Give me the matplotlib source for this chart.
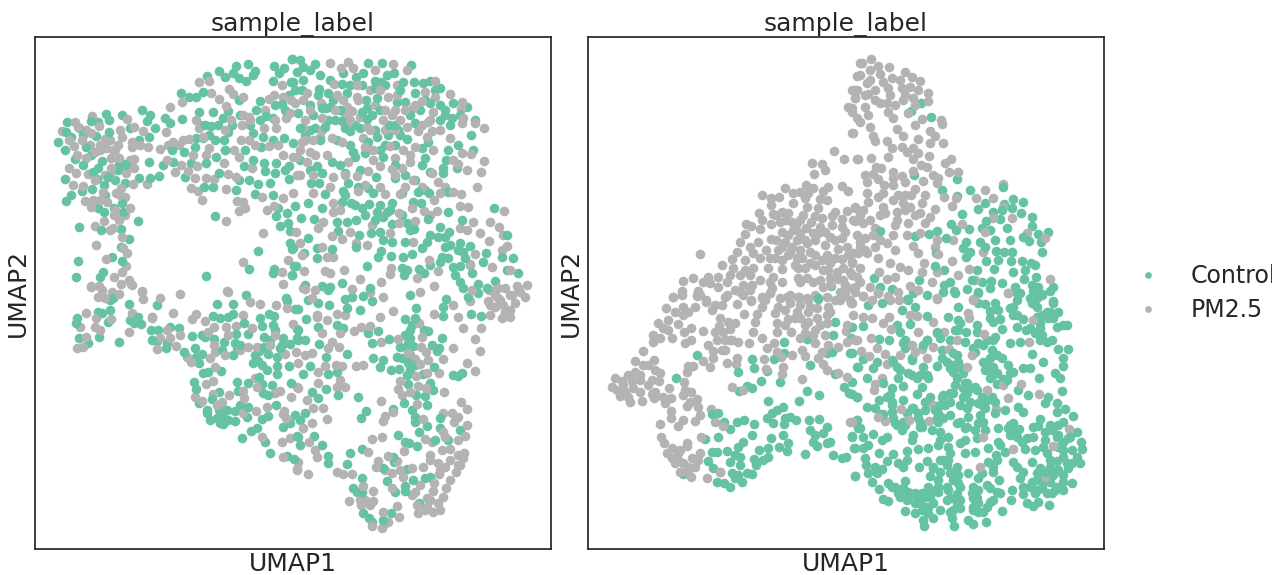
import numpy as np
import matplotlib
matplotlib.use('Agg')
import matplotlib.pyplot as plt
from matplotlib.lines import Line2D

# point positions, y runs downward
left_control = [
(67,122),(58,142),(65,150),(66,132),(71,137),(79,128),(83,135),(86,147),(75,159),(83,165),(91,155),(91,121),(98,122),(106,114),(109,120),(109,132),(96,136),(122,115),(130,128),(142,110),(150,115),(147,121),(155,128),(149,137),(139,140),(165,118),(170,123),(182,119),(181,93),(189,97),(196,97),(203,92),(207,76),(219,71),(225,77),(233,73),(236,66),(248,64),(239,78),(246,81),(253,75),(255,71),(274,66),(284,68),(279,73),(273,81),(292,59),(291,82),(289,95),(282,104),(260,101),(239,100),(228,111),(223,118),(213,112),(199,112),(256,110),(266,116),(273,118),(211,126),(218,125),(228,132),(224,140),(209,135),(203,138),(196,138),(195,147),(184,152),(253,133),(263,137),(273,140),(284,138),(293,143),(245,150),(261,147),(253,160),(244,166),(264,163),(265,171),(276,163),(275,173),(289,179),(289,166),(219,173),(191,163),(206,163),(216,157),(173,162),(163,165),(149,162),(159,176),(150,178),(139,178),(124,164),(119,164),(102,161),(98,168),(93,172),(97,179),(108,177),(115,180),(125,183),(104,185),(92,189),(82,191),(71,195),(66,201),(65,179),(185,177),(204,187),(213,187),(236,190),(239,180),(249,180),(258,184),(270,183),(273,195),(255,194),(278,208),(276,216),(287,213),(288,223),(280,226),(290,231),(290,243),(292,249),(258,251),(249,269),(274,269),(273,273),(292,275),(294,266),(206,276),(215,216),(98,208),(104,212),(114,208),(123,212),(138,221),(122,203),(79,227),(101,230),(121,229),(129,239),(121,247),(78,261),(112,257),(122,261),(76,277),(103,272),(100,277),
(292,59),(300,60),(303,67),(297,72),(303,80),(315,64),(310,70),(293,82),(368,63),(382,63),(411,65),(356,77),(363,73),(343,73),(394,73),(387,75),(342,84),(347,93),(375,81),(381,82),(403,82),(414,82),(423,83),(430,81),(440,88),(319,89),(328,93),(330,107),(322,108),(366,100),(377,98),(367,108),(380,110),(397,102),(405,102),(415,93),(430,103),(440,105),(453,103),(467,107),(445,115),(452,118),(440,120),(475,120),(471,135),(298,113),(313,115),(328,120),(342,121),(315,128),(325,127),(350,131),(367,119),(377,137),(389,125),(398,130),(407,139),(415,123),(428,142),(422,148),(458,145),(473,150),(448,150),(446,160),(425,158),(422,165),(443,168),(457,168),(443,173),(430,172),(353,152),(365,153),(383,157),(355,157),(332,162),(317,166),(322,173),(345,173),(376,177),(395,178),(348,183),(343,191),(358,187),(368,188),(373,193),(311,183),(319,183),(325,194),(295,206),(308,203),(322,208),(342,202),(351,203),(369,204),(362,208),(365,215),(377,212),(387,212),(392,203),(402,193),(418,192),(413,202),(421,203),(429,193),(448,192),(448,212),(428,219),(494,208),(462,220),(301,218),(314,219),(337,222),(347,222),(338,231),(356,220),(383,217),(392,224),(407,223),(414,229),(359,235),(371,233),(380,232),(383,240),(392,242),(405,242),(427,242),(440,227),(449,232),(438,237),(445,237),(507,235),(445,247),(460,243),(470,246),(463,252),(486,253),(502,257),(513,258),(442,257),(448,258),(483,262),(453,267),(460,266),(507,270),(472,273),(518,273),(495,281),(455,275),(460,282),(478,284),(487,288),(293,248),(308,238),(317,248),(332,249),(317,258),(356,247),(381,251),(378,257),(391,256),(403,257),(412,254),(422,248),(367,266),(402,268),(407,270),(404,275),(419,269),(424,273),(304,253),(296,266),(292,275),(342,283),(322,286),(305,285),(330,287),(370,288),
(77,318),(76,323),(79,338),(88,343),(99,337),(102,313),(98,312),(108,322),(110,310),(113,298),(119,342),(129,304),(157,305),(138,317),(134,323),(141,324),(152,317),(151,330),(158,330),(170,327),(179,328),(152,340),(157,341),(166,348),(167,343),(184,352),(195,348),(196,357),(202,354),(199,363),(203,373),(208,372),(221,371),(192,336),(202,335),(205,337),(214,339),(224,342),(217,304),(233,304),(246,295),(213,316),(220,318),(228,317),(233,314),(244,323),(260,318),(262,326),(248,334),(236,334),(235,343),(240,345),(237,348),(233,355),(264,337),(264,347),(259,351),(268,354),(277,357),(280,348),(283,338),(290,344),(297,338),(269,314),(274,316),(273,325),(275,330),(286,298),(287,301),(295,309),(297,329),(253,363),(258,361),(277,366),(267,370),(277,374),(289,366),(259,377),(262,384),(263,393),(248,383),(237,382),(238,391),(291,383),(194,382),(196,389),(219,392),(212,399),(199,403),(248,407),(247,417),(276,405),(207,410),(207,413),(219,410),(227,410),(235,411),(217,418),(220,423),(223,424),(235,421),(262,419),(268,416),(257,428),(251,431),(242,438),(265,442),(270,453),(283,427),(290,423),(295,415),(297,436),(287,456),(294,459),
(328,290),(308,300),(318,303),(298,309),(329,305),(345,299),(352,297),(363,296),(372,301),(347,308),(360,310),(306,319),(318,327),(298,330),(343,328),(337,325),(368,333),(378,331),(372,343),(389,339),(405,319),(415,318),(416,308),(410,295),(443,307),(446,299),(443,316),(463,288),(471,314),(481,316),(478,293),(468,297),(410,330),(410,338),(424,330),(428,331),(442,338),(400,347),(413,346),(408,343),(432,345),(439,348),(437,351),(319,344),(305,340),(298,340),(326,357),(347,354),(310,366),(303,374),(328,374),(337,372),(373,358),(380,367),(383,360),(397,357),(402,358),(391,370),(399,369),(408,363),(410,370),(407,375),(423,374),(434,367),(430,383),(453,375),(458,376),(462,373),(408,384),(433,390),(312,392),(326,389),(318,398),(338,395),(358,397),(404,403),(416,395),(425,396),(427,405),(412,410),(366,411),(361,418),(393,409),(440,418),(440,428),(460,430),(415,417),(415,422),(419,432),(427,426),(300,420),(305,413),(298,437),(300,445),(314,436),(322,445),(328,456),(328,463),(347,464),(350,453),(362,449),(398,435),(405,442),(409,443),(417,446),(435,440),(448,440),(393,457),(394,462),(383,468),(407,469),(362,478),(387,481),(413,480),(425,478),(430,477),(405,486),(405,491),(395,492),(353,488),(357,492),(362,492),(419,503),(363,513),(369,518),(372,522),(391,513),(383,520),(384,524),
(310,105),(318,95),(326,108),(333,100),(340,110),(335,120),(345,128),(355,125),(362,112),(372,115),(375,130),(388,135),(395,125),(385,145),(395,145),(400,135),(410,115),(420,110),(425,100),(435,90),(445,110),(450,125),(460,115),(305,135),(300,128),(310,130),(320,140),(337,140),(350,145),(360,128),(368,142),(380,150),(395,165),(405,175),(415,180),(425,190),(345,195),(355,205),(375,220),(380,205),(390,210),(402,215),(410,230),(430,235),(450,245),(458,250),(465,258),(470,265),(440,262),(430,265),(285,110),(275,105),(295,90),(302,90),(320,75),(330,80),(350,85),(362,85),(375,88),(385,85),(400,90),(300,160),(285,170),(310,170),(340,165),(360,170),(260,120),(250,125),(232,125),(240,115),(205,125),(215,140),(225,150),(200,125),(172,150),(118,170),(126,165),(105,195),(415,365),(410,355),(405,335),(412,325),(408,350),(255,355),(262,365),(272,385),(268,395),(240,405),(228,420),(225,410),(210,420),(223,418),(282,345),(270,340),(222,350),(130,320),(110,300),
]

left_pm25 = [
(92,116),(75,122),(62,131),(78,127),(86,130),(91,133),(99,126),(69,140),(74,146),(77,155),(86,158),(95,152),(105,139),(106,148),(113,150),(118,145),(122,137),(111,158),(111,168),(119,158),(134,159),(134,168),(126,173),(127,119),(134,127),(143,131),(132,142),(132,147),(148,147),(160,149),(168,145),(173,142),(183,140),(189,139),(179,145),(166,132),(170,107),(182,102),(199,82),(209,81),(211,93),(196,120),(199,128),(203,137),(193,155),(209,148),(206,155),(197,166),(181,165),(167,160),(175,172),(188,171),(195,178),(191,188),(198,191),(202,200),(206,178),(226,189),(214,179),(228,174),(236,177),(224,163),(234,150),(239,157),(241,140),(249,140),(242,125),(231,120),(243,115),(249,117),(226,106),(229,89),(233,94),(243,97),(219,99),(269,99),(282,85),(274,95),(283,97),(291,100),(286,118),(290,113),(276,128),(264,128),(269,146),(278,145),(283,155),(293,157),(252,168),(262,197),(283,198),(274,206),(267,210),(237,201),(243,202),(245,208),(239,211),(226,221),(263,233),(243,262),(288,260),(282,272),(283,284),(227,291),(73,185),(83,186),(69,168),(76,173),(88,174),(85,201),(93,200),(91,207),(103,192),(107,202),(116,193),(121,188),(125,197),(133,184),(147,184),(130,208),(114,215),(119,220),(104,221),(113,228),(95,226),(122,237),(96,245),(123,248),(127,253),(106,259),(126,266),(122,272),(114,277),(129,280),(131,284),(121,284),(91,286),(99,286),(142,291),
(330,63),(348,62),(341,68),(353,68),(375,70),(393,64),(407,70),(334,84),(357,85),(370,90),(380,90),(397,85),(388,97),(397,95),(435,81),(425,92),(422,101),(435,97),(450,94),(462,102),(307,93),(303,100),(295,103),(321,103),(337,95),(343,100),(357,97),(347,107),(352,111),(305,120),(322,118),(360,117),(350,120),(367,127),(383,120),(392,115),(405,110),(413,108),(433,112),(461,109),(463,118),(462,123),(475,123),(484,128),(407,127),(418,131),(428,122),(432,131),(422,125),(303,128),(332,138),(320,137),(313,140),(302,142),(300,150),(310,152),(342,142),(363,138),(365,147),(373,150),(390,146),(395,158),(403,150),(410,155),(410,162),(402,168),(392,169),(415,147),(427,137),(450,138),(433,150),(462,153),(471,154),(484,161),(453,160),(458,164),(467,170),(481,172),(477,187),(432,173),(438,182),(445,187),(453,192),(461,194),(440,193),(434,200),(413,180),(405,187),(400,194),(422,187),(297,157),(307,162),(327,155),(348,162),(333,177),(313,175),(297,175),(357,176),(368,171),(380,166),(373,160),(380,187),(385,194),(330,187),(358,191),(313,193),(293,193),(333,203),(340,210),(333,212),(412,208),(424,211),(437,211),(430,215),(399,213),(460,206),(468,207),(504,211),(473,222),(490,222),(499,227),(460,228),(467,230),(480,233),(489,241),(503,235),(507,246),(502,250),(475,254),(470,264),(492,267),(510,270),(429,260),(438,271),(323,222),(318,228),(332,236),(342,239),(350,232),(372,225),(399,223),(415,221),(390,233),(413,242),(367,245),(356,243),(296,232),(300,243),(322,247),(333,257),(327,257),(302,255),(304,271),(325,271),(330,273),(344,270),(360,279),(381,282),(391,268),(390,274),(417,278),(434,286),(498,288),(517,286),(527,285),(303,288),
(86,313),(80,327),(95,327),(100,330),(86,337),(77,348),(83,347),(96,318),(111,319),(132,313),(129,332),(173,313),(180,294),(160,298),(143,299),(142,292),(119,294),(98,297),(105,298),(91,287),(102,290),(112,292),(132,285),(152,318),(167,330),(170,338),(180,335),(176,346),(157,349),(160,338),(192,319),(196,314),(205,321),(214,327),(208,332),(187,357),(191,362),(210,358),(214,345),(215,352),(225,355),(215,367),(226,327),(236,326),(228,335),(228,292),(250,302),(260,304),(276,305),(243,315),(252,328),(257,347),(248,347),(240,350),(270,345),(285,354),(296,352),(298,363),(287,308),(293,324),(275,335),(297,387),(291,397),(275,393),(280,391),(255,378),(257,387),(243,391),(244,398),(206,384),(213,381),(195,397),(202,401),(213,394),(222,402),(229,395),(217,405),(243,413),(256,411),(267,407),(284,411),(283,414),(286,418),(262,437),(282,442),(290,438),(283,457),(297,470),
(393,311),(380,317),(337,314),(317,315),(327,320),(345,315),(354,331),(361,327),(370,326),(340,333),(322,333),(381,342),(398,339),(419,323),(422,337),(421,347),(426,352),(428,360),(408,353),(415,359),(420,364),(443,359),(427,373),(439,373),(416,376),(400,381),(398,389),(402,395),(410,392),(418,386),(426,388),(444,392),(417,404),(453,348),(434,314),(458,317),(463,328),(481,328),(475,339),(480,351),(467,363),(475,371),(453,305),(470,301),(488,301),(498,298),(503,305),(512,295),(515,303),(525,297),(518,288),(505,288),(495,307),(490,315),(502,318),(510,317),(472,290),(489,290),(305,289),(315,290),(312,298),(317,317),(352,289),(370,292),(383,297),(420,292),(332,342),(328,348),(339,347),(312,353),(305,355),(342,366),(336,365),(325,366),(318,372),(356,366),(363,365),(340,380),(318,383),(337,387),(345,387),(298,388),(307,400),(313,408),(323,408),(327,419),(312,423),(303,428),(381,401),(385,416),(383,421),(393,412),(423,419),(461,402),(467,409),(452,413),(458,417),(454,422),(467,425),(443,413),(443,432),(445,437),(465,436),(458,440),(425,439),(432,442),(372,439),(382,437),(309,442),(315,450),(317,457),(298,462),(297,469),(308,474),(337,472),(343,474),(352,474),(368,452),(404,451),(430,455),(442,450),(450,449),(458,455),(464,453),(463,458),(438,463),(445,467),(458,465),(456,472),(439,474),(388,456),(378,461),(376,467),(397,461),(392,473),(412,468),(423,467),(403,477),(434,483),(420,485),(415,492),(412,495),(446,488),(433,491),(443,497),(438,503),(427,498),(427,507),(433,512),(417,505),(418,513),(392,488),(363,486),(373,491),(349,501),(361,505),(373,501),(365,500),(397,506),(399,517),(383,512),(388,522),(372,526),(382,528),
(310,110),(322,130),(335,110),(345,115),(358,100),(375,105),(385,110),(395,110),(305,140),(345,125),(370,130),(385,130),(400,120),(415,105),(430,120),(440,130),(300,175),(315,155),(345,175),(365,185),(395,175),(395,130),(250,120),(265,110),(275,120),(255,145),(225,130),(225,150),(140,145),(130,160),(115,150),(110,175),(120,195),(105,175),(115,210),(110,230),(100,200),(125,215),(82,140),(90,145),(100,145),(110,140),(120,130),(100,150),(95,180),(430,460),(440,470),(450,460),(460,465),(450,480),(430,500),(425,510),(440,510),(495,290),(500,300),(505,312),(510,295),(495,295),(520,292),(490,305),(510,310),(360,500),(370,505),(385,470),(400,470),
]

right_pm25 = [
(860,63),(857,76),(852,90),(857,90),(855,98),(848,107),(852,112),(857,118),(852,133),(834,151),(844,159),(857,159),(812,163),(822,164),(825,170),(814,174),(806,185),(785,188),(813,188),(828,187),(823,191),(842,186),(848,191),(855,207),(762,195),(771,198),(779,197),(793,193),(800,192),(808,193),(805,198),(820,199),(827,200),(771,205),(793,203),(807,207),(818,208),(847,211),(759,213),(773,214),(782,212),(788,213),(803,215),(815,216),(835,212),(832,216),(855,221),(762,220),(746,224),(751,226),(771,224),(780,222),(792,222),(800,220),(811,222),(822,218),(842,219),(760,229),(782,232),(793,230),(800,233),(820,227),(832,225),(842,227),(745,234),(771,239),(813,233),(818,233),(797,240),(785,242),(782,247),(830,237),(845,232),(842,238),(740,242),(758,242),(750,247),(807,243),(825,245),(847,247),(860,242),(737,252),(766,250),(753,253),(778,250),(790,252),(800,250),(810,252),(827,255),(838,249),(700,254),(732,259),(745,260),(760,258),(770,258),(782,260),(797,258),(810,263),(830,263),(842,259),(852,262),(858,253),(722,265),(733,268),(753,268),(768,268),(782,269),(798,268),(823,270),(837,272),(852,275),(718,277),(740,275),(773,277),(798,278),(807,278),(813,282),(830,278),(838,279),(857,277),(683,281),(693,278),(708,277),(727,282),(703,282),(710,283),(718,287),(743,285),(752,285),(772,288),(782,282),(848,288),(698,291),(682,291),(727,295),(740,292),(770,293),(823,287),(840,292),(673,297),(697,296),(706,300),(751,300),(762,297),(787,297),(798,297),(807,298),(827,297),(850,300),
(871,59),(862,63),(878,66),(889,67),(860,75),(870,70),(880,74),(905,72),(912,77),(892,78),(883,82),(900,80),(920,81),(867,83),(888,88),(902,88),(910,87),(918,90),(928,93),(855,90),(875,90),(868,94),(855,98),(903,100),(913,98),(928,101),(880,103),(887,103),(865,107),(852,108),(888,112),(868,115),(908,113),(893,118),(922,119),(915,125),(941,120),(942,124),(860,122),(870,127),(897,129),(930,131),(853,133),(873,136),(903,136),(935,136),(875,141),(887,141),(918,139),(930,143),(943,143),(892,148),(902,147),(913,148),(907,152),(918,153),(858,159),(871,158),(888,157),(913,159),(929,156),(951,159),(945,163),(876,167),(881,168),(921,165),(927,167),(949,172),(958,172),(865,175),(873,174),(893,172),(913,171),(933,175),(867,182),(878,179),(893,178),(902,176),(923,181),(938,178),(884,185),(893,185),(905,182),(915,189),(937,183),(867,193),(883,193),(898,195),(911,195),(925,195),(944,197),(956,198),(985,190),(1003,184),(976,198),(993,198),(868,202),(878,197),(903,203),(922,203),(952,206),(855,208),(863,210),(883,207),(910,207),(935,209),(885,213),(897,212),(920,213),(930,217),(853,220),(863,223),(897,220),(908,223),(925,223),(895,225),(962,224),(993,218),(1012,218),(1003,207),(873,235),(865,238),(893,235),(907,235),(920,233),(1027,233),(985,232),(887,243),(860,247),(875,247),(937,240),(953,240),(913,246),(935,247),(895,250),(918,253),(938,254),(983,252),(1045,238),(853,253),(867,253),(878,258),(890,263),(924,263),(952,261),(852,263),(900,267),(908,270),(922,272),(937,272),(969,269),(879,272),(852,275),(895,277),(887,279),(860,282),(958,275),(975,280),(932,282),(910,286),(855,287),(870,287),(918,290),(898,292),(863,296),(1050,279),(1008,293),(888,296),(937,298),(973,299),
(673,297),(682,295),(697,295),(706,302),(715,305),(725,297),(722,305),(737,304),(743,295),(751,301),(762,298),(762,307),(770,293),(790,295),(799,297),(808,300),(778,307),(785,310),(775,313),(797,312),(808,312),(817,308),(828,307),(840,300),(851,303),(683,307),(695,307),(666,308),(675,312),(683,315),(744,314),(757,314),(755,322),(788,319),(800,318),(817,318),(827,315),(808,322),(820,325),(827,323),(658,323),(668,320),(678,324),(663,328),(691,328),(684,332),(703,331),(728,322),(735,323),(719,326),(715,332),(723,332),(730,329),(777,323),(777,332),(791,332),(753,332),(805,333),(847,325),(846,331),(653,335),(660,338),(653,342),(672,338),(691,340),(685,343),(717,340),(725,340),(732,340),(738,342),(762,338),(749,343),(774,343),(800,338),(813,335),(815,343),(855,340),(847,342),(828,345),(838,347),(643,351),(713,351),(722,350),(767,348),(777,352),(802,350),(792,355),(805,356),(822,352),(635,361),(654,360),(713,358),(703,361),(737,358),(727,363),(736,364),(764,359),(781,357),(818,358),(823,364),(643,365),(648,365),(635,372),(710,367),(688,366),(693,366),(687,372),(783,367),(766,369),(827,370),(655,370),(660,373),(640,380),(652,380),(659,381),(782,374),(838,373),(847,377),(802,379),(615,378),(622,381),(632,381),(684,382),(612,387),(623,385),(633,388),(669,388),(685,390),(732,387),(743,390),(620,396),(628,397),(640,392),(652,394),(691,392),(642,401),(654,398),(663,397),(671,398),(683,395),(697,399),(690,402),(665,403),(687,406),(698,407),(711,409),(671,411),(700,415),(671,418),(683,420),(695,421),(715,422),(660,424),(678,426),(723,426),(661,437),(701,437),(664,443),(687,443),(687,446),(672,448),(678,453),(667,453),(700,453),(672,458),(683,463),(675,463),(698,460),(688,467),(695,467),(680,472),(691,477),(687,472),(720,472),(707,478),(850,422),
(878,293),(863,296),(872,300),(890,300),(899,300),(937,299),(973,300),(1008,293),(852,303),(853,315),(863,317),(872,318),(889,317),(910,315),(917,316),(933,322),(968,313),(969,318),(883,323),(891,329),(918,332),(944,332),(1033,320),(857,340),(871,338),(933,347),(912,345),(922,349),(915,352),(949,349),(984,334),(1029,342),(861,351),(877,348),(885,354),(869,356),(900,355),(927,358),(972,355),(887,364),(967,367),(882,378),(875,384),(874,390),(1021,384),(1003,385),(987,390),(1039,394),(1008,398),(933,405),(901,409),(996,409),(878,417),(885,421),(909,420),(929,421),(983,437),(1069,429),(1053,446),(1013,449),(980,467),(1045,477),(852,422),(957,340),
(776,215),(786,220),(796,225),(806,228),(776,240),(788,235),(805,240),(815,240),(825,232),(835,240),(792,247),(802,258),(815,255),(822,260),(835,258),(848,255),(775,258),(788,255),(795,265),(805,268),(815,265),(828,270),(843,268),(860,268),(843,280),(850,272),(820,280),(830,285),(845,285),(800,282),(770,282),(760,280),(750,275),(745,270),(730,275),(735,290),(750,290),(765,300),(780,298),(815,295),(835,300),(845,295),(855,292),(800,305),(810,307),(790,303),(830,312),(795,318),(785,325),(815,330),(825,335),(805,325),(700,295),(712,310),(720,318),(730,340),(725,350),(708,345),(668,330),(688,312),(640,375),(628,375),(625,392),(617,390),(630,402),(648,385),(655,392),(860,215),(870,220),(880,215),(865,250),(875,228),(857,235),(880,240),(905,210),(915,215),(893,200),(905,195),(870,80),(890,95),(895,105),(875,100),(865,95),(905,95),(915,105),(678,460),(692,458),(680,450),(690,468),
]

right_control = [
(831,286),(818,298),(921,103),(911,111),(931,117),(914,175),(957,179),(942,190),(970,190),(1003,187),(957,196),(985,203),(978,209),(962,214),(993,212),(1002,210),(1004,204),(1013,199),(1023,202),(1012,208),(1021,213),(1032,217),(1000,219),(986,221),(951,224),(956,230),(969,229),(982,228),(990,230),(1007,228),(1032,226),(1023,237),(1048,232),(1038,234),(1041,242),(1029,241),(1042,252),(937,231),(929,234),(946,238),(915,236),(880,231),(966,242),(963,248),(970,252),(966,257),(980,242),(985,247),(995,240),(1010,240),(996,251),(1004,252),(1012,252),(986,261),(998,260),(1011,261),(1022,261),(1031,263),(1035,265),(1025,270),(1013,272),(1024,279),(1036,277),(994,269),(977,270),(935,266),(944,270),(919,280),(874,278),(936,253),(1002,283),(991,281),(982,282),(972,280),(967,289),(978,292),(990,288),(950,282),(944,285),(954,291),(943,292),(1015,287),(1017,293),(1032,285),(1038,287),(1033,291),(1053,287),(1050,291),(892,289),(878,293),(880,287),(927,295),(913,293),(907,299),(1030,298),(1042,294),(1053,301),
(818,299),(835,322),(852,327),(851,338),(833,335),(807,339),(784,342),(784,353),(774,359),(752,359),(754,368),(767,371),(738,372),(697,355),(676,378),(810,365),(827,353),(832,352),(850,353),(857,367),(835,374),(780,382),(761,381),(747,386),(752,388),(739,391),(807,391),(819,395),(844,387),(852,382),(849,393),(857,397),(768,401),(799,401),(783,407),(777,410),(772,413),(790,417),(767,418),(773,423),(785,418),(784,424),(796,420),(809,420),(819,419),(857,420),(754,424),(744,420),(737,422),(730,429),(712,414),(718,413),(724,422),(810,430),(815,435),(827,427),(823,433),(858,428),(783,435),(771,438),(718,437),(705,439),(852,436),(752,435),(743,442),(813,442),(830,442),(827,443),(817,446),(788,443),(779,447),(768,448),(759,450),(787,451),(855,448),(727,451),(738,447),(712,452),(717,452),(805,454),(833,455),(842,458),(846,457),(768,457),(763,460),(754,459),(730,462),(740,457),(735,455),(708,461),(756,465),(713,468),(740,465),(732,473),(747,473),(752,474),(738,475),(720,472),(717,482),(742,482),(724,483),(730,487),(735,478),(855,476),(683,474),
(868,305),(882,303),(908,300),(915,307),(902,310),(927,316),(948,317),(958,307),(978,303),(985,304),(955,293),(978,293),(995,303),(990,311),(998,310),(990,318),(1000,319),(1013,307),(1013,315),(1017,300),(1020,293),(1032,303),(1037,307),(1042,295),(1053,303),(1058,312),(1047,312),(1037,317),(1048,318),(1023,319),(1017,327),(1026,330),(1067,325),(1057,327),(1040,328),(1002,329),(977,325),(863,326),(897,325),(910,324),(958,320),(955,330),(966,332),(937,332),(900,332),(879,339),(889,340),(905,340),(927,340),(940,338),(950,340),(965,342),(978,343),(987,340),(995,337),(977,332),(1010,343),(1020,342),(1040,340),(1052,340),(1058,349),(1068,349),(1032,354),(1063,358),(1043,362),(1002,358),(992,350),(973,348),(942,350),(923,345),(905,348),(852,353),(863,359),(877,362),(892,360),(912,360),(942,358),(957,355),(983,362),(990,358),(1063,366),(858,367),(873,368),(897,367),(923,367),(937,366),(953,365),(990,369),(1008,365),(1023,368),(1030,368),(1055,373),(867,378),(898,378),(912,375),(920,375),(928,378),(953,372),(963,373),(993,375),(1003,379),(1013,372),(1060,378),(1039,378),(903,386),(922,387),(892,388),(955,385),(967,383),(975,387),(997,384),(883,383),(1018,390),(1062,391),(917,394),(890,395),(857,397),(852,394),(943,395),(953,393),(967,393),(982,397),(992,397),(1028,395),(1048,397),(1045,403),(1057,403),(879,400),(892,402),(903,400),(927,402),(940,405),(950,402),(970,402),(982,405),(867,407),(875,408),(913,408),(925,410),(967,408),(985,408),(1005,410),(1018,407),(1023,412),(1065,409),(883,414),(892,412),(907,413),(918,413),(938,413),(950,415),(968,417),(980,415),(995,413),(1057,412),(1073,416),(1063,422),(1040,419),(857,420),(895,423),(903,422),(920,422),(938,422),(957,423),(978,423),(1013,423),(1050,425),(1058,425),(1033,427),(1038,426),(1008,428),(1019,429),(1077,432),(860,428),(902,430),(920,427),(932,430),(940,432),(965,428),(985,430),(998,428),(1045,432),(1058,435),(1027,438),(1033,437),(1010,435),(863,437),(873,434),(887,437),(913,435),(940,440),(948,437),(965,440),(977,438),(852,437),(882,440),(912,440),(938,445),(960,443),(998,442),(1022,442),(1045,440),(1063,442),(1068,438),(1081,442),(868,445),(854,448),(863,448),(918,449),(928,448),(948,447),(975,452),(988,448),(1000,445),(1005,452),(1025,449),(1035,450),(1043,447),(1058,447),(1072,450),(1082,449),(907,451),(879,453),(893,454),(950,453),(965,453),(996,455),(1047,453),(1063,457),(1077,457),(865,458),(887,461),(907,460),(927,461),(940,460),(948,460),(988,462),(997,460),(1013,462),(1032,462),(1057,461),(1072,463),(1080,463),(866,465),(898,463),(919,467),(933,468),(947,465),(957,467),(993,467),(1017,467),(1050,467),(1068,468),(875,467),(903,467),(1040,468),(1058,470),(882,469),(868,473),(877,473),(855,476),(930,476),(950,473),(958,475),(968,473),(982,473),(993,472),(1023,472),(1038,473),(1053,475),(1063,475),(940,472),(938,480),(953,480),(978,478),(999,480),(1020,478),(1037,480),(1050,482),(1072,483),(872,482),(888,483),(905,481),(928,487),(947,487),(960,487),(973,487),(987,485),(1030,487),(1042,488),(1063,490),(1057,487),(879,489),(895,487),(903,488),(1012,490),(922,493),(938,492),(957,494),(972,493),(997,492),(1023,494),(1035,493),(1052,493),(888,501),(900,497),(913,494),(930,497),(947,500),(977,498),(993,500),(1011,500),(1027,503),(1038,502),(1049,505),(883,499),(907,500),(915,503),(925,507),(933,503),(957,503),(973,507),(987,507),(1033,506),(905,511),(915,513),(928,513),(940,510),(950,512),(960,508),(978,512),(1002,511),(923,520),(933,518),(952,518),(968,520),(986,522),(924,526),(954,526),(973,524),
(1032,300),(1037,298),(1050,312),(1042,315),(1053,318),(1030,328),(1035,333),(1042,335),(1047,342),(1063,325),(993,340),(983,345),(975,352),(997,355),(987,365),(993,367),(997,373),(985,370),(990,378),(1007,380),(1010,373),(953,353),(947,362),(958,362),(950,368),(960,367),(957,378),(965,383),(970,388),(963,397),(977,390),(963,388),(987,400),(995,402),(978,403),(960,405),(945,405),(935,410),(943,418),(960,422),(967,427),(975,430),(983,422),(950,393),(942,397),(930,397),(925,402),(937,418),(912,408),(918,418),(893,418),(887,397),(892,405),(880,414),(905,425),(897,425),(922,427),(915,493),(920,503),(928,507),(922,510),(930,490),(938,487),(948,490),(933,467),(943,460),(953,472),(958,483),(950,498),(960,500),(953,510),(973,498),(978,490),(990,488),(1000,493),(990,502),(978,503),(973,510),(983,512),(892,487),(898,493),(908,492),(917,498),(925,497),(1037,473),(1045,472),(1043,482),(1032,482),(1023,487),(1037,490),(1047,493),(1055,490),(1063,482),(1058,470),(1067,463),(1050,460),(1063,450),(1070,437),(1057,437),(1052,430),(1013,430),(1010,425),(1017,437),(908,373),(917,378),(927,375),(912,358),(893,362),(900,370),(903,343),(927,340),(937,333),(960,323),(958,330),(993,322),(1010,308),(1017,315),(1040,323),
]

categories = ['Control', 'PM2.5']
colors = ['#66c2a5', '#b3b3b3']
W, H = 1272, 575

plt.rcParams['font.family'] = 'DejaVu Sans'
plt.rcParams['text.color'] = '#262626'
plt.rcParams['axes.labelcolor'] = '#262626'

fig = plt.figure(figsize=(W/100, H/100), dpi=100)

def draw_panel(px_left, px_right, control, pm25):
    ax = fig.add_axes([px_left/W, 1 - 549/H, (px_right - px_left)/W, (549 - 37)/H])
    control = np.array(control)
    pm25 = np.array(pm25)
    # the two groups are mixed in the original so draw them in turns
    for step in range(2):
        ax.scatter(control[step::2, 0], control[step::2, 1], s=48, c=colors[0], linewidths=0, zorder=2+2*step)
        ax.scatter(pm25[step::2, 0], pm25[step::2, 1], s=48, c=colors[1], linewidths=0, zorder=3+2*step)
    ax.set_xlim(px_left, px_right)
    ax.set_ylim(549, 37)
    ax.set_xticks([])
    ax.set_yticks([])
    ax.set_title('sample_label', fontsize=18, pad=3)
    ax.set_xlabel('UMAP1', fontsize=18, labelpad=2)
    ax.set_ylabel('UMAP2', fontsize=18, labelpad=4)
    for s in ax.spines.values():
        s.set_linewidth(1.25)
        s.set_color('#262626')
    return ax

ax1 = draw_panel(35, 551, left_control, left_pm25)
ax2 = draw_panel(588, 1104, right_control, right_pm25)

handles = [Line2D([], [], ls='none', marker='o', ms=4.8, mec='none', mfc=c) for c in colors]
ax2.legend(handles, categories, frameon=False, fontsize=17, loc='center left',
           bbox_to_anchor=(1.0, 0.5), labelspacing=0.42, handletextpad=0.82, borderaxespad=0.47)

fig.savefig('out.png', dpi=100)
